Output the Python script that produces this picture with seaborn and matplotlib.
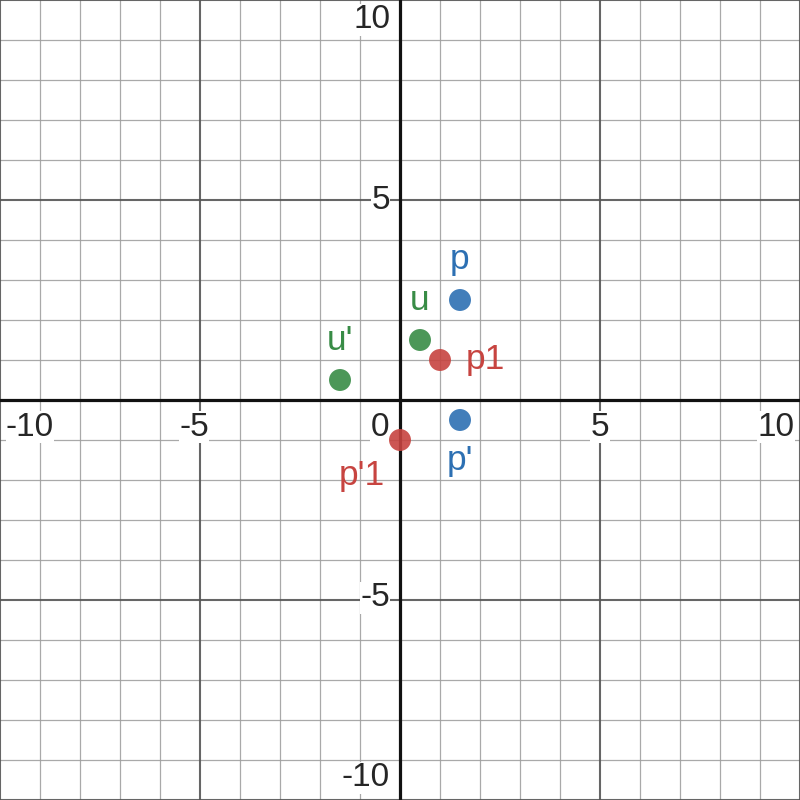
import matplotlib
matplotlib.use("Agg")
import matplotlib.pyplot as plt
import seaborn as sns
import pandas as pd
import numpy as np

# data
names = ["p", "p'", "u", "u'", "p1", "p'1"]
xs = [1.5, 1.5, 0.5, -1.5, 1.0, 0.0]
ys = [2.5, -0.5, 1.5, 0.5, 1.0, -1.0]
colors = ["#2d70b3", "#2d70b3", "#388c46", "#388c46", "#c74440", "#c74440"]
tick_values = [-10, -5, 5, 10]

sns.set_style("white")
plt.rcParams['font.family'] = ['Liberation Sans', 'DejaVu Sans']

fig = plt.figure(figsize=(8, 8), dpi=100)
ax = fig.add_axes([0, 0, 1, 1])
ax.set_xlim(-10, 10)
ax.set_ylim(-10, 10)

# grid
for v in range(-10, 11):
    if v == 0:
        continue
    if v % 5 == 0:
        ax.axvline(v, color="#555555", lw=1.5, alpha=0.9, zorder=1)
        ax.axhline(v, color="#555555", lw=1.5, alpha=0.9, zorder=1)
    else:
        ax.axvline(v, color="#a0a0a0", lw=0.9, alpha=0.9, zorder=0.5)
        ax.axhline(v, color="#a0a0a0", lw=0.9, alpha=0.9, zorder=0.5)
ax.axvline(0, color="#111111", lw=2.3, zorder=2)
ax.axhline(0, color="#111111", lw=2.3, zorder=2)

for s in ax.spines.values():
    s.set_visible(False)
ax.set_xticks([]); ax.set_yticks([])
ax.set_xlabel(""); ax.set_ylabel("")

df = pd.DataFrame({"name": names, "x": xs, "y": ys})
sns.scatterplot(data=df, x="x", y="y", hue="name", palette=dict(zip(names, colors)),
                s=250, alpha=0.9, edgecolor="none", legend=False, ax=ax, zorder=5)

# point labels
offsets = {"p": (0, 1.0, "center"), "p'": (0, -1.02, "center"), "u": (0, 1.0, "center"),
           "u'": (0, 1.0, "center"), "p1": (0.65, 0, "left"), "p'1": (-0.95, -0.9, "center")}
for n, x, y, c in zip(names, xs, ys, colors):
    dx, dy, ha = offsets[n]
    ax.text(x + dx, y + dy, n, color=c, fontsize=25.5, ha=ha, va="center", zorder=6)

fs = 24
bbox = dict(facecolor="white", edgecolor="none", pad=0.3)
xpos = {-10: -9.25, -5: -5.15, 5: 5.0, 10: 9.4}
for v in tick_values:
    ax.text(xpos[v], -0.68, f"{v}", fontsize=fs, ha="center", va="center", bbox=bbox, zorder=4)
ax.text(-0.5, -0.68, "0", fontsize=fs, ha="center", va="center", bbox=bbox, zorder=4)
ypos = {-10: -9.45, -5: -4.95, 5: 4.98, 10: 9.5}
for v in tick_values:
    ax.text(-0.25, ypos[v], f"{v}", fontsize=fs, ha="right", va="center", bbox=bbox, zorder=4)

fig.savefig("out.png", dpi=100)
